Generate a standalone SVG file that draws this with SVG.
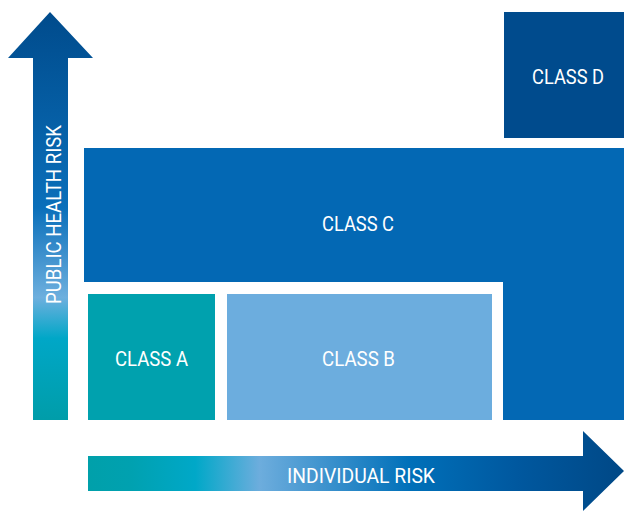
<svg xmlns="http://www.w3.org/2000/svg" width="624" height="511" viewBox="0 0 624 511">
<defs>
<linearGradient id="gv" x1="0" y1="420" x2="0" y2="12" gradientUnits="userSpaceOnUse">
<stop offset="0" stop-color="#009DA9"/>
<stop offset="0.2" stop-color="#00A7C7"/>
<stop offset="0.3" stop-color="#6DAFDE"/>
<stop offset="0.52" stop-color="#0A6FBA"/>
<stop offset="1" stop-color="#004B8C"/>
</linearGradient>
<linearGradient id="gh" x1="88" y1="0" x2="624" y2="0" gradientUnits="userSpaceOnUse">
<stop offset="0" stop-color="#00A0AA"/>
<stop offset="0.08" stop-color="#00A1B0"/>
<stop offset="0.2" stop-color="#00A8C8"/>
<stop offset="0.32" stop-color="#6DADDD"/>
<stop offset="0.6" stop-color="#0070B9"/>
<stop offset="0.8" stop-color="#00589F"/>
<stop offset="1" stop-color="#004886"/>
</linearGradient>
</defs>
<style>
.lbl{font-family:Roboto,"Liberation Sans",sans-serif;font-size:21px;fill:#fff;text-anchor:middle}
</style>
<g id="axis-y">
<path d="M33,420 V58 H8 L50,12 L93,58 H68 V420 Z" fill="url(#gv)"/>
<text class="lbl" transform="translate(61,214.5) rotate(-90)" textLength="179" lengthAdjust="spacingAndGlyphs">PUBLIC HEALTH RISK</text>
</g>
<g id="axis-x">
<path d="M88,456 H583 V431 L624,471 L583,511 V491 H88 Z" fill="url(#gh)"/>
<text class="lbl" x="361" y="483" textLength="148" lengthAdjust="spacingAndGlyphs">INDIVIDUAL RISK</text>
</g>
<g id="class-c">
<path d="M84,148 H624 V420 H503 V282 H84 Z" fill="#0368B4"/>
<text class="lbl" x="358" y="231" textLength="72" lengthAdjust="spacingAndGlyphs">CLASS C</text>
</g>
<g id="class-d">
<rect x="504" y="12" width="120" height="126" fill="#004B8D"/>
<text class="lbl" x="568" y="84" textLength="72" lengthAdjust="spacingAndGlyphs">CLASS D</text>
</g>
<g id="class-a">
<rect x="88" y="294" width="127" height="126" fill="#00A1AE"/>
<text class="lbl" x="151.5" y="366" textLength="73" lengthAdjust="spacingAndGlyphs">CLASS A</text>
</g>
<g id="class-b">
<rect x="227" y="294" width="265" height="126" fill="#6CADDE"/>
<text class="lbl" x="358.5" y="366" textLength="73" lengthAdjust="spacingAndGlyphs">CLASS B</text>
</g>
<g id="connectors"/>
</svg>
